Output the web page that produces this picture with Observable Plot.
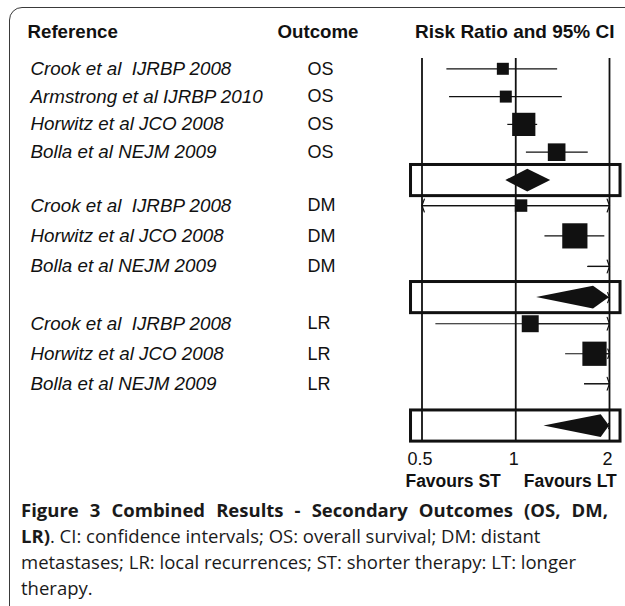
<!DOCTYPE html>
<html><head><meta charset="utf-8">
<script src="https://cdn.jsdelivr.net/npm/d3@7"></script>
<script src="https://cdn.jsdelivr.net/npm/@observablehq/plot@0.6"></script>
<style>
html,body{margin:0;padding:0;background:#fff;overflow:hidden;}
#wrap{position:relative;width:625px;height:606px;overflow:hidden;}
#frame{position:absolute;left:9px;top:7px;width:660px;height:660px;border:1px solid #3a3a3a;border-radius:13px;box-sizing:border-box;pointer-events:none;}
#chart{position:absolute;left:0;top:0;}
#chart svg text{white-space:pre;}
#caption{position:absolute;left:21px;top:497px;width:587px;font-family:"Open Sans",sans-serif;font-size:18.5px;line-height:26px;color:#1a1a1a;}
#caption div{white-space:nowrap;}
#caption div.j{text-align:justify;text-align-last:justify;}
#caption b{font-weight:700;}
</style></head>
<body>
<div id="wrap">
  <div id="chart"></div>
  <div id="caption"></div>
  <div id="frame"></div>
</div>
<script>
// ---- data ----
const studies = ["Crook et al  IJRBP 2008","Armstrong et al IJRBP 2010","Horwitz et al JCO 2008","Bolla et al NEJM 2009",
                 "Crook et al  IJRBP 2008","Horwitz et al JCO 2008","Bolla et al NEJM 2009",
                 "Crook et al  IJRBP 2008","Horwitz et al JCO 2008","Bolla et al NEJM 2009"];
const outcomes = ["OS","OS","OS","OS","DM","DM","DM","LR","LR","LR"];
const studyRows = [0, 1, 2, 3, 4.92, 6.01, 7.11, 9.17, 10.25, 11.33];
const riskRatio = [0.909, 0.929, 1.061, 1.353, 1.04, 1.548, 2.4, 1.113, 1.79, 2.5];
const ciLower   = [0.601, 0.613, 0.943, 1.082, 0.3, 1.241, 1.705, 0.554, 1.446, 1.663];
const ciUpper   = [1.363, 1.411, 1.176, 1.709, 3.5, 1.932, 3.4, 2.3, 2.2, 3.8];
const weights   = [12, 12, 45, 26, 13, 53, 34, 24, 49, 27];

const pooledOutcomes = ["OS","DM","LR"];
const pooledRows  = [4.02, 8.23, 12.85];
const pooledRR    = [1.093, 1.777, 1.881];
const pooledLower = [0.929, 1.167, 1.232];
const pooledUpper = [1.295, 2.7, 2.9];

const axisTicks  = [0.5, 1, 2];
const tickLabels = ["0.5", "1", "2"];
const headers    = ["Reference", "Outcome", "Risk Ratio and 95% CI"];
const favourLabels = ["Favours ST", "Favours LT"];
const captionLines = [
  "<b>Figure 3 Combined Results - Secondary Outcomes (OS, DM,</b>",
  "<b>LR)</b>. CI: confidence intervals; OS: overall survival; DM: distant",
  "metastases; LR: local recurrences; ST: shorter therapy: LT: longer",
  "therapy."
];

// ---- layout constants ----
const xMin = 0.5, xMax = 2;
const headerRow = -1.32, ruleTop = -0.37, ruleBottom = 13.4, tickRow = 14.05, favourRow = 14.83;
const boxHalf = 0.56, diamondHalf = 0.41, boxLo = 0.461, boxHi = 2.17;

const rows = studies.map((s, i) => ({
  study: s, outcome: outcomes[i], row: studyRows[i], rr: riskRatio[i],
  lo: ciLower[i], hi: ciUpper[i], w: weights[i]
}));
const pooled = pooledOutcomes.map((o, i) => ({
  outcome: o, row: pooledRows[i], rr: pooledRR[i], lo: pooledLower[i], hi: pooledUpper[i]
}));
const diamondPts = pooled.flatMap((p, i) => [
  {g: i, x: Math.max(p.lo, xMin), y1: p.row, y2: p.row},
  {g: i, x: p.rr, y1: p.row - diamondHalf, y2: p.row + diamondHalf},
  {g: i, x: Math.min(p.hi, xMax), y1: p.row, y2: p.row}
]);
const rightArrows = [...rows, ...pooled].filter(d => d.hi > xMax)
  .map(d => ({row: d.row, x1: d.rr < xMax ? Math.max(d.rr, d.lo) : d.lo}));
const leftArrows = rows.filter(d => d.lo < xMin).map(d => ({row: d.row, x1: d.rr}));

const font = "'Liberation Sans', Arial, sans-serif";
const ink = "#111";

const chart = Plot.plot({
  width: 625, height: 490,
  marginLeft: 0, marginRight: 15, marginTop: 0, marginBottom: 0,
  style: {fontFamily: font, background: "transparent", overflow: "visible"},
  x: {type: "log", domain: [xMin, xMax], range: [421.5, 609], axis: null},
  y: {type: "linear", domain: [0, 1], range: [68.3, 96.1], axis: null},
  r: {type: "sqrt", domain: [0, 100], range: [0, 19.54]},
  marks: [
    Plot.ruleX(axisTicks, {x: d => d, y1: ruleTop, y2: ruleBottom, stroke: ink, strokeWidth: 1.8}),
    Plot.rect(pooled, {x1: boxLo, x2: boxHi, y1: d => d.row - boxHalf, y2: d => d.row + boxHalf,
      fill: "none", stroke: ink, strokeWidth: 3}),
    Plot.ruleY(rows, {y: "row", x1: d => Math.max(d.lo, xMin), x2: d => Math.min(d.hi, xMax),
      stroke: ink, strokeWidth: 1.2}),
    Plot.arrow(rightArrows, {x1: "x1", x2: xMax, y1: "row", y2: "row", stroke: ink, strokeWidth: 1.2,
      headLength: 8.5, headAngle: 140}),
    Plot.arrow(leftArrows, {x1: "x1", x2: xMin, y1: "row", y2: "row", stroke: ink, strokeWidth: 1.2,
      headLength: 8.5, headAngle: 140}),
    Plot.dot(rows, {x: "rr", y: "row", r: "w", symbol: "square", fill: ink, stroke: "none", clip: true}),
    Plot.areaY(diamondPts, {x: "x", y1: "y1", y2: "y2", z: "g", fill: ink, curve: "linear"}),
    Plot.text(rows, {y: "row", text: "study", frameAnchor: "left", dx: 30, textAnchor: "start",
      fontSize: 18.8, fontStyle: "italic", fontFamily: font, fill: ink}),
    Plot.text(rows, {y: "row", text: "outcome", frameAnchor: "left", dx: 307, textAnchor: "start",
      fontSize: 18, fontFamily: font, fill: ink}),
    Plot.text([headers[0]], {y: headerRow, text: d => d, frameAnchor: "left", dx: 27, textAnchor: "start",
      fontSize: 18.7, fontWeight: "bold", fontFamily: font, fill: ink}),
    Plot.text([headers[1]], {y: headerRow, text: d => d, frameAnchor: "left", dx: 277, textAnchor: "start",
      fontSize: 18.7, fontWeight: "bold", fontFamily: font, fill: ink}),
    Plot.text([headers[2]], {x: 1, y: headerRow, text: d => d, textAnchor: "middle", dx: -1,
      fontSize: 19, fontWeight: "bold", fontFamily: font, fill: ink}),
    Plot.text(axisTicks, {x: d => d, y: tickRow, text: (d, i) => tickLabels[i], textAnchor: "middle", dx: -2,
      fontSize: 18, fontFamily: font, fill: ink}),
    Plot.text([favourLabels[0]], {x: 1, y: favourRow, text: d => d, textAnchor: "end", dx: -15,
      fontSize: 17.5, fontWeight: "bold", fontFamily: font, fill: ink}),
    Plot.text([favourLabels[1]], {x: 1, y: favourRow, text: d => d, textAnchor: "start", dx: 8,
      fontSize: 17.5, fontWeight: "bold", fontFamily: font, fill: ink})
  ]
});
document.getElementById("chart").appendChild(chart);

document.getElementById("caption").innerHTML = captionLines
  .map((l, i) => `<div class="${i === 0 ? "j" : ""}">${l}</div>`).join("");
</script>
</body></html>
